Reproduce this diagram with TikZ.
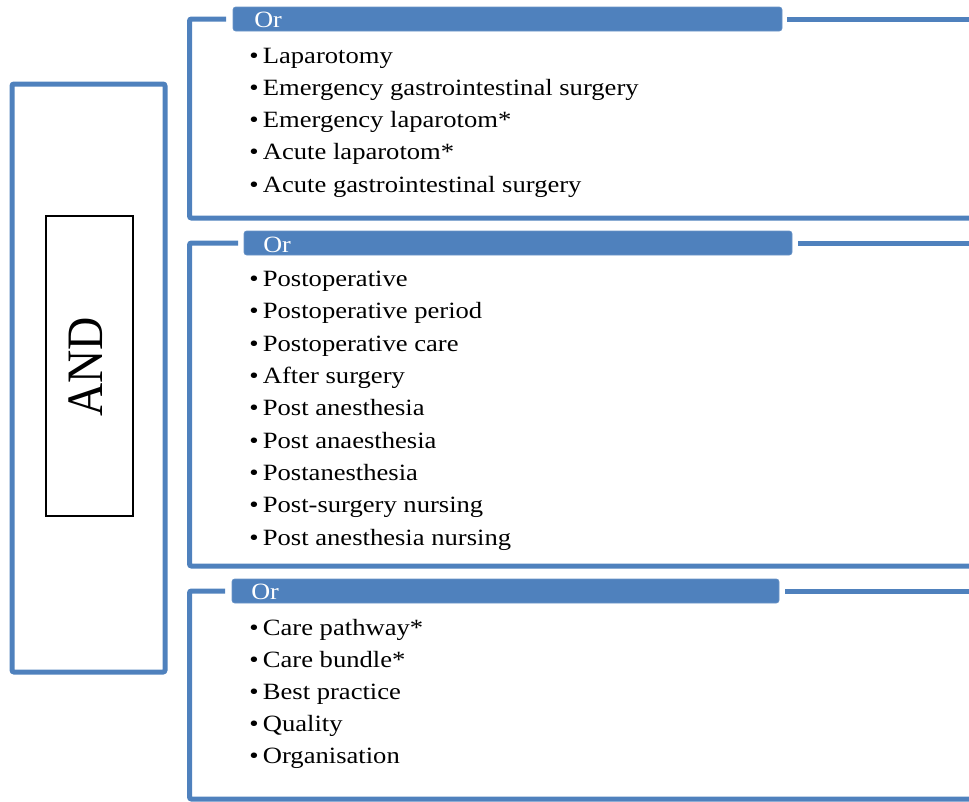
\documentclass[tikz,border=0pt]{standalone}
\usepackage{fontspec}
\setmainfont{Liberation Serif}
\usetikzlibrary{positioning}
\definecolor{andblue}{RGB}{79,129,189}

\begin{document}
\begin{tikzpicture}[x=0.75pt, y=-0.75pt,
    frame/.style={draw=andblue, line width=3.75pt, rounded corners=1.5pt},
    orbar/.style={fill=andblue, draw=andblue!85!white, line width=0.5pt, rounded corners=2pt},
    ortext/.style={text=white, inner sep=0pt, anchor=base west, xscale=1.12, font=\fontsize{17.5}{20}\selectfont},
    item/.style={inner sep=0pt, anchor=base west, xscale=1.14, font=\fontsize{17.5}{21}\selectfont}]
    \useasboundingbox (0,0) rectangle (969,801);

    % AND box on the left
    \draw[frame] (12,84) rectangle (165,672);
    \node[draw=black, line width=1.5pt, inner sep=0pt, minimum width=65.25pt, minimum height=225pt] (andbox) at (89.5,366) {};
    \node[xscale=1.11, rotate=90, inner sep=0pt, font=\fontsize{34.5}{40}\selectfont] (andtext) at (86,367) {AND};

    % First group: laparotomy terms
    \draw[frame] (226,19) -- (189.5,19) -- (189.5,218) -- (969,218);
    \draw[frame] (787,19) -- (969,19);
    \draw[orbar] (233,7) rectangle (782,31);
    \node[ortext] (or1) at (254,27) {Or};
    \foreach \txt [count=\i] in {Laparotomy, Emergency gastrointestinal surgery,
        Emergency laparotom*, Acute laparotom*, Acute gastrointestinal surgery}
      \node[item] (ga\i) at (249,{63+32.3*(\i-1)}) {\textbullet\hspace{2.8pt}\txt};

    % Second group: postoperative terms
    \draw[frame] (238,243) -- (189.5,243) -- (189.5,566) -- (969,566);
    \draw[frame] (798,243) -- (969,243);
    \draw[orbar] (244,231) rectangle (792,255);
    \node[ortext] (or2) at (263,252) {Or};
    \foreach \txt [count=\i] in {Postoperative, Postoperative period, Postoperative care,
        After surgery, Post anesthesia, Post anaesthesia, Postanesthesia,
        Post-surgery nursing, Post anesthesia nursing}
      \node[item] (gb\i) at (249,{286.5+32.35*(\i-1)}) {\textbullet\hspace{2.8pt}\txt};

    % Third group: care terms
    \draw[frame] (225,591) -- (189.5,591) -- (189.5,799) -- (969,799);
    \draw[frame] (785,591) -- (969,591);
    \draw[orbar] (232,579) rectangle (779,603);
    \node[ortext] (or3) at (251,599) {Or};
    \foreach \txt [count=\i] in {Care pathway*, Care bundle*, Best practice,
        Quality, Organisation}
      \node[item] (gc\i) at (249,{635+32.2*(\i-1)}) {\textbullet\hspace{2.8pt}\txt};
\end{tikzpicture}
\end{document}
